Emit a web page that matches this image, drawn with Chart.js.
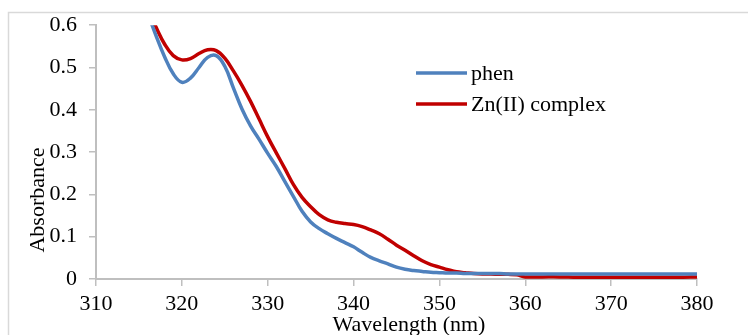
<!DOCTYPE html>
<html>
<head>
<meta charset="utf-8">
<script src="https://cdn.jsdelivr.net/npm/chart.js@4/dist/chart.umd.min.js"></script>
<style>
  html, body { margin: 0; padding: 0; background: #fff; }
  #wrap { width: 748px; height: 335px; }
</style>
</head>
<body>
<div id="wrap"><canvas id="myChart" width="748" height="335"></canvas></div>
<script>
const wavelengths = [315, 316, 317, 318, 319, 320, 321, 322, 323, 324, 325, 326, 327, 328, 329, 330,
  331, 332, 333, 334, 335, 336, 337, 338, 339, 340, 341, 342, 343, 344, 345, 346, 347, 348, 349, 350,
  351, 352, 353, 354, 355, 356, 357, 358, 359, 360, 362, 364, 366, 368, 370, 372, 374, 376, 378, 380];
const phen = [0.69, 0.63, 0.575, 0.525, 0.485, 0.465, 0.475, 0.500, 0.524, 0.528, 0.503, 0.452, 0.402, 0.362, 0.330, 0.297,
  0.266, 0.230, 0.195, 0.160, 0.135, 0.119, 0.107, 0.096, 0.086, 0.076, 0.063, 0.051, 0.043, 0.036, 0.028, 0.023, 0.020, 0.018, 0.016, 0.015,
  0.014, 0.014, 0.013, 0.013, 0.013, 0.013, 0.013, 0.012, 0.012, 0.012, 0.012, 0.012, 0.012, 0.012, 0.012, 0.012, 0.012, 0.012, 0.012, 0.012];
const znComplex = [0.69, 0.64, 0.595, 0.555, 0.528, 0.518, 0.521, 0.533, 0.542, 0.540, 0.522, 0.492, 0.458, 0.420, 0.378, 0.336,
  0.298, 0.261, 0.223, 0.193, 0.171, 0.152, 0.140, 0.134, 0.131, 0.129, 0.124, 0.116, 0.107, 0.094, 0.080, 0.068, 0.055, 0.043, 0.034, 0.028,
  0.022, 0.017, 0.015, 0.013, 0.012, 0.012, 0.011, 0.011, 0.010, 0.005, 0.005, 0.005, 0.004, 0.004, 0.004, 0.004, 0.004, 0.004, 0.004, 0.005];
const seriesNames = ['phen', 'Zn(II) complex'];
const seriesColors = ['#4f81bd', '#c00000'];

const FONT = '"Liberation Serif", "Times New Roman", serif';
const AXIS = '#bfbfbf';

// frame, axis titles and legend drawn by hand to match the original placement
const extras = {
  id: 'extras',
  beforeDraw(chart) {
    const c = chart.ctx;
    c.save();
    c.strokeStyle = '#d9d9d9';
    c.lineWidth = 1.5;
    c.strokeRect(8.5, 12.5, 900, 500);
    c.restore();
  },
  afterDraw(chart) {
    const c = chart.ctx;
    c.save();
    c.fillStyle = '#000';
    c.font = '22px ' + FONT;
    c.textAlign = 'center';
    c.textBaseline = 'middle';
    c.fillText('Wavelength (nm)', 409, 325);
    c.translate(38, 200);
    c.rotate(-Math.PI / 2);
    c.fillText('Absorbance', 0, 0);
    c.restore();

    c.save();
    c.font = '22px ' + FONT;
    c.textAlign = 'left';
    c.textBaseline = 'middle';
    const rows = [73, 104];
    seriesNames.forEach((name, i) => {
      c.strokeStyle = seriesColors[i];
      c.lineWidth = 3.5;
      c.beginPath();
      c.moveTo(416, rows[i]);
      c.lineTo(467, rows[i]);
      c.stroke();
      c.fillStyle = '#000';
      c.fillText(name, 471, rows[i] + 1);
    });
    c.restore();
  }
};

const ctx = document.getElementById('myChart').getContext('2d');
const myChart = new Chart(ctx, {
  type: 'line',
  data: {
    datasets: seriesNames.map((name, i) => ({
      label: name,
      data: wavelengths.map((w, j) => ({ x: w, y: (i === 0 ? phen : znComplex)[j] })),
      borderColor: seriesColors[i],
      borderWidth: 3.5,
      pointRadius: 0,
      tension: 0.4,
      fill: false
    }))
  },
  options: {
    responsive: false,
    animation: false,
    layout: { padding: { left: 0, right: 51, top: 24, bottom: 0 } },
    plugins: {
      legend: { display: false },
      tooltip: { enabled: false }
    },
    scales: {
      x: {
        type: 'linear',
        min: 310,
        max: 380,
        afterFit(scale) { scale.height = 56; },
        ticks: { stepSize: 10, color: '#000', padding: 5, font: { family: FONT, size: 22 } },
        grid: { drawOnChartArea: false, drawTicks: true, tickLength: 7, color: AXIS, lineWidth: 1.5 },
        border: { color: AXIS, width: 2 }
      },
      y: {
        min: 0,
        max: 0.6,
        afterFit(scale) { scale.width = 96; },
        ticks: { stepSize: 0.1, color: '#000', padding: 12, font: { family: FONT, size: 22 },
          callback: v => Math.round(v * 10) / 10 },
        grid: { drawOnChartArea: false, drawTicks: true, tickLength: 7, color: AXIS, lineWidth: 1.5 },
        border: { color: AXIS, width: 2 }
      }
    }
  },
  plugins: [extras]
});
</script>
</body>
</html>
